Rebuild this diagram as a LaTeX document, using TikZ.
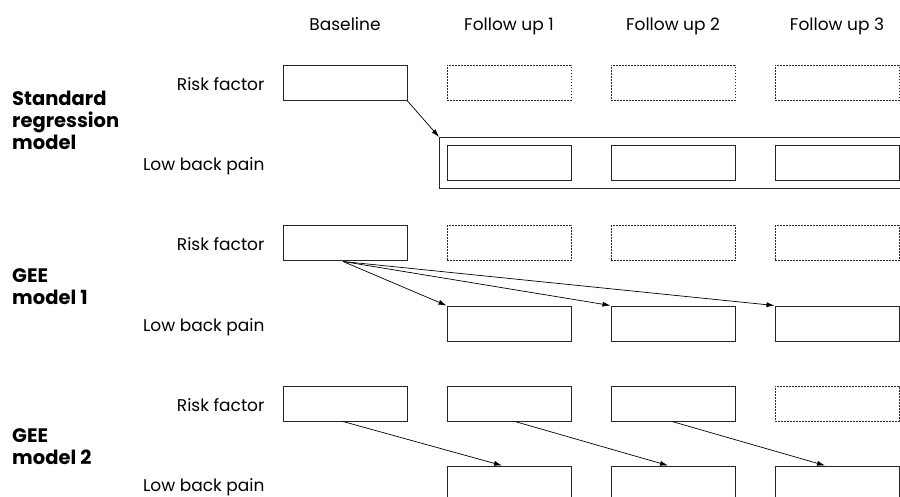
\documentclass[tikz,border=0pt]{standalone}
\usepackage{fontspec}
\setmainfont{Poppins}
\usetikzlibrary{arrows.meta,fit,calc}
\begin{document}
\begin{tikzpicture}[x=1pt,y=-1pt,
  box/.style={draw=black!85,line width=1pt,rectangle,minimum width=124pt,minimum height=35pt,inner sep=0pt},
  ghost/.style={box,dash pattern=on 1.6pt off 1.4pt},
  arr/.style={draw=black,line width=0.7pt,-{Latex[length=8pt,width=5pt]}},
  head/.style={font=\fontsize{17}{20}\selectfont,anchor=base},
  side/.style={font=\fontsize{17}{20}\selectfont,anchor=base east},
  model/.style={font=\fontsize{19.5}{22}\selectfont\bfseries,anchor=north west,align=left,inner sep=0pt}
]
\clip (0,0) rectangle (900,497);
% column headers
\node[head] (hb) at (345,31) {Baseline};
\node[head] (h1) at (509,31) {Follow up 1};
\node[head] (h2) at (673,31) {Follow up 2};
\node[head] (h3) at (837,31) {Follow up 3};
% Standard regression model
\node[side] (l1) at (268,91) {Risk factor};
\node[side] (l2) at (268,171) {Low back pain};
\node[model] (m1) at (12,91) {Standard\\regression\\model};
\node[box] (s-r0) at (345,83) {};
\node[ghost] (s-r1) at (509,83) {};
\node[ghost] (s-r2) at (673,83) {};
\node[ghost] (s-r3) at (837,83) {};
\node[box] (s-p1) at (509,163.5) {};
\node[box] (s-p2) at (673,163.5) {};
\node[box] (s-p3) at (837,163.5) {};
\node[draw=black!85,line width=1pt,rectangle,minimum width=480pt,minimum height=51pt,inner sep=0pt,anchor=north west] (s-all) at (439,137) {};
\draw[arr] (s-r0.south east) -- (s-all.north west);
% GEE model 1
\node[side] (l3) at (268,251) {Risk factor};
\node[side] (l4) at (268,331) {Low back pain};
\node[model] (m2) at (12,268) {GEE\\model 1};
\node[box] (a-r0) at (345,243.5) {};
\node[ghost] (a-r1) at (509,243.5) {};
\node[ghost] (a-r2) at (673,243.5) {};
\node[ghost] (a-r3) at (837,243.5) {};
\node[box] (a-p1) at (509,323.5) {};
\node[box] (a-p2) at (673,323.5) {};
\node[box] (a-p3) at (837,323.5) {};
\coordinate (a-s) at ($(a-r0.south)+(-2,0)$);
\draw[arr] (a-s) -- (a-p1.north west);
\draw[arr] (a-s) -- (a-p2.north west);
\draw[arr] (a-s) -- (a-p3.north west);
% GEE model 2
\node[side] (l5) at (268,411) {Risk factor};
\node[side] (l6) at (268,491) {Low back pain};
\node[model] (m3) at (12,428) {GEE\\model 2};
\node[box] (b-r0) at (345,403.5) {};
\node[box] (b-r1) at (509,403.5) {};
\node[box] (b-r2) at (673,403.5) {};
\node[ghost] (b-r3) at (837,403.5) {};
\node[box] (b-p1) at (509,483.5) {};
\node[box] (b-p2) at (673,483.5) {};
\node[box] (b-p3) at (837,483.5) {};
\draw[arr] ($(b-r0.south)+(-2,0)$) -- ($(b-p1.north)+(-7,0)$);
\draw[arr] ($(b-r1.south)+(6,0)$) -- ($(b-p2.north)+(-5,0)$);
\draw[arr] ($(b-r2.south)+(-1,0)$) -- ($(b-p3.north)+(-12,0)$);
\end{tikzpicture}
\end{document}
